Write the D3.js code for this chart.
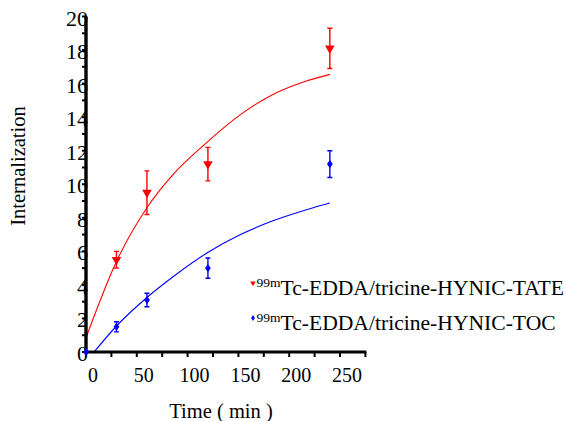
<!DOCTYPE html>
<meta charset="utf-8">
<style>
    html,
    body {
        margin: 0;
        padding: 0;
        background: #fff;
    }

    svg {
        display: block;
    }
</style>

<body>
    <svg width="566" height="421"></svg>
    <script src="https://cdn.jsdelivr.net/npm/d3@7"></script>
    <script>
        // measured points (mean +/- error), time in min
        const tateTime = [30, 60, 120, 240];
        const tateMean = [5.5, 9.5, 11.2, 18.1];
        const tateErr = [0.5, 1.3, 1.0, 1.2];

        const tocTime = [0, 30, 60, 120, 240];
        const tocMean = [0, 1.5, 3.1, 5.0, 11.2];
        const tocErr = [0, 0.3, 0.4, 0.6, 0.8];

        // fitted curves
        const tateFitTime = [0, 30, 60, 86, 119, 152, 184, 217, 240];
        const tateFit = [0.85, 5.4, 8.6, 10.6, 12.5, 14.15, 15.35, 16.15, 16.55];
        const tocFitTime = [8, 30, 60, 86, 119, 152, 184, 217, 240];
        const tocFit = [0, 1.55, 3.25, 4.5, 5.9, 7.0, 7.82, 8.48, 8.88];

        const xTicks = [0, 50, 100, 150, 200, 250];
        const yTicks = [0, 2, 4, 6, 8, 10, 12, 14, 16, 18, 20];
        const legendNames = ["Tc-EDDA/tricine-HYNIC-TATE", "Tc-EDDA/tricine-HYNIC-TOC"];

        const FONT = "Liberation Serif";
        const svg = d3.select("svg");
        const x = d3.scaleLinear().domain([0, 275]).range([86, 365.4]);
        const y = d3.scaleLinear().domain([0, 20]).range([352, 16.5]);

        // fit lines
        const line = d3.line().curve(d3.curveMonotoneX);
        svg.append("path")
            .attr("d", line(tateFitTime.map((t, i) => [x(t), y(tateFit[i])])))
            .attr("fill", "none").attr("stroke", "#ff0000").attr("stroke-width", 1.1);
        svg.append("path")
            .attr("d", line(tocFitTime.map((t, i) => [x(t), y(tocFit[i])])))
            .attr("fill", "none").attr("stroke", "#0000ff").attr("stroke-width", 1.1);

        // axes
        const ax = svg.append("g").attr("stroke", "#000");
        ax.append("line").attr("x1", x(0)).attr("x2", x(0)).attr("y1", y(20)).attr("y2", y(0) + 1.5)
            .attr("stroke-width", 3.4);
        ax.append("line").attr("x1", x(0) - 1.7).attr("x2", x(275) + 1).attr("y1", y(0)).attr("y2", y(0))
            .attr("stroke-width", 3.2);
        d3.range(0, 276, 25).forEach(v => {
            ax.append("line").attr("x1", x(v)).attr("x2", x(v)).attr("y1", y(0)).attr("y2", y(0) + 5)
                .attr("stroke-width", 2);
        });
        d3.range(0, 21, 1).forEach(v => {
            ax.append("line").attr("x1", x(0)).attr("x2", x(0) - 4).attr("y1", y(v)).attr("y2", y(v))
                .attr("stroke-width", 2);
        });

        svg.append("g").selectAll("text").data(yTicks).join("text")
            .attr("font-family", FONT)
            .attr("x", 88).attr("y", d => y(d) + 9)
            .attr("text-anchor", "end").attr("font-size", 22).text(d => d);
        svg.append("g").selectAll("text").data(xTicks).join("text")
            .attr("font-family", FONT)
            .attr("x", d => x(d) + 7).attr("y", 381.5)
            .attr("text-anchor", "middle").attr("font-size", 20).text(d => d);

        svg.append("text").attr("font-family", FONT).attr("x", 221).attr("y", 417.5).attr("text-anchor", "middle")
            .attr("font-size", 20.5).text("Time ( min )");
        svg.append("text").attr("font-family", FONT).attr("transform", "translate(25,166) rotate(-90)")
            .attr("text-anchor", "middle").attr("font-size", 20.5).text("Internalization");

        // markers + error bars
        const tri = d3.symbol().type(d3.symbolTriangle).size(40);
        const dia = d3.symbol().type(d3.symbolDiamond).size(22);

        function drawSeries(times, mean, err, color, symPath, tf) {
            const g = svg.append("g");
            times.forEach((t, i) => {
                const cx = x(t);
                if (err[i] > 0) {
                    const top = y(mean[i] + err[i]);
                    const bot = y(mean[i] - err[i]);
                    g.append("path")
                        .attr("d", `M${cx},${top}V${bot}M${cx - 2.5},${top}H${cx + 2.5}M${cx - 2.5},${bot}H${cx + 2.5}`)
                        .attr("stroke", color).attr("stroke-width", 1.4).attr("fill", "none");
                }
                g.append("path")
                    .attr("d", symPath)
                    .attr("transform", `translate(${cx},${y(mean[i])}) ${tf}`)
                    .attr("fill", color);
            });
        }
        drawSeries(tateTime, tateMean, tateErr, "#ff0000", tri(), "rotate(180)");
        drawSeries(tocTime, tocMean, tocErr, "#0000ff", dia(), "scale(1.15,0.95)");

        // legend
        const leg = svg.append("g");
        const legMarks = [
            ["#ff0000", d3.symbol().type(d3.symbolTriangle).size(13)(), "rotate(180)", 295],
            ["#0000ff", d3.symbol().type(d3.symbolDiamond).size(10)(), "scale(1.1,1)", 330]
        ];
        legMarks.forEach(([color, p, tf, by], i) => {
            leg.append("path").attr("d", p)
                .attr("transform", `translate(253,${by - 12}) ${tf}`)
                .attr("fill", color);
            const t = leg.append("text").attr("font-family", FONT).attr("x", 256.5).attr("y", by);
            t.append("tspan").attr("font-size", 13.5).attr("dy", -8).text("99m");
            t.append("tspan").attr("font-size", 21.6).attr("dy", 8).text(legendNames[i]);
        });
    </script>
</body>

</html>
